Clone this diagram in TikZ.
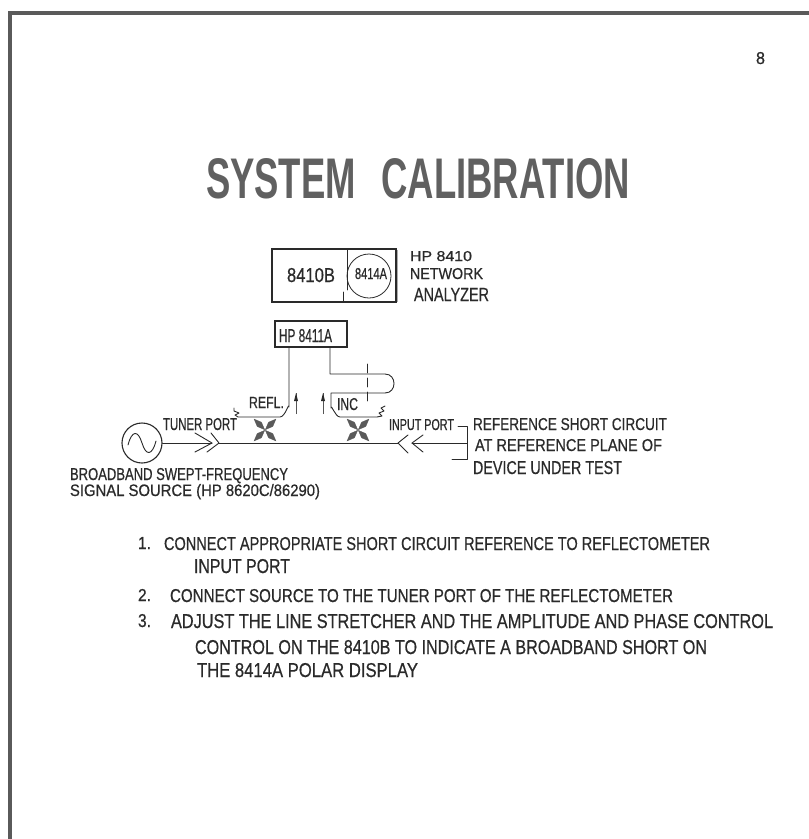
\documentclass[tikz,border=0pt]{standalone}
\usepackage{fontspec}
\usepackage{graphicx}
\setmainfont{Liberation Sans}[FakeBold=0.6]
\newfontfamily\titlefont{Liberation Sans Bold}
\definecolor{ink}{HTML}{2A2A2A}
\definecolor{frame}{HTML}{5A5A5A}
\definecolor{titlegray}{HTML}{606060}
\tikzset{
  wire/.style={draw=ink,line width=0.9pt,line join=round,line cap=round},
  label/.style={anchor=north west,inner sep=0pt,outer sep=0pt,text=ink},
  boxed/.style={draw=ink,line width=1.1pt,anchor=north west,inner sep=0pt,outer sep=0pt},
  lobe/.style={fill=frame,draw=frame,line width=0.3pt},
  smallarrow/.style={draw=ink!80,line width=0.8pt}
}
% name, x, top y, width, height, text
\newcommand{\fittext}[6]{\node[label] (#1) at (#2,#3) {\resizebox{#4pt}{#5pt}{#6}};}
\newcommand{\crossmark}[1]{%
  \foreach \a in {45,135,225,315}{
    \fill[lobe,shift={(#1)},rotate=\a] (0.5,0) -- (8,3) -- (15.5,0) -- (8,-3) -- cycle;
  }}
\begin{document}
\begin{tikzpicture}[x=1pt,y=-1pt]
\useasboundingbox (0,0) rectangle (809,839);
\fill[white] (0,0) rectangle (809,839);
% page frame
\draw[frame,line width=4pt] (10,839) -- (10,13) -- (809,13);

\fittext{pagenum}{756}{52}{9}{12}{8}
\node[label,text=titlegray] (title) at (206,158) {\resizebox{424pt}{40pt}{\titlefont SYSTEM\hspace{0.7em}CALIBRATION}};

% analyzer
\node[boxed,minimum width=124pt,minimum height=53pt] (analyzer) at (272,249) {};
\coordinate (divtop) at (347,249);
\coordinate (divbot) at (347,290);
\coordinate (ticktop) at (343,292);
\coordinate (tickbot) at (343,302);
\draw[wire] (divtop) -- (divbot);
\draw[wire] (ticktop) -- (tickbot);
\node[draw=ink,line width=0.8pt,circle,minimum size=44pt,inner sep=0pt] (crt) at (369,276) {};
\draw[frame!50,line width=1.6pt] (analyzer.north east) ++(1.5,1) -- ++(0,52);
\fittext{lbla}{287}{268}{48}{14}{8410B}
\fittext{lblb}{355}{268}{32}{11}{8414A}
\fittext{an1}{410}{251}{62}{10}{HP 8410}
\fittext{an2}{410}{268}{73}{11}{NETWORK}
\fittext{an3}{414}{288}{75}{13}{ANALYZER}

% 8411A
\node[boxed,line width=1.4pt,minimum width=72pt,minimum height=26pt] (hp) at (275,321) {};
\fittext{lblc}{279}{329}{53}{13}{HP 8411A}

% reflected path
\coordinate (r0) at (289,347);
\coordinate (r2) at (238,417);
\coordinate (r3) at (234,408);
\draw[wire] (r0) -- (289,407) to[out=90,in=0] (280,417) -- (r2)
  -- (235,415) -- (239,413) -- (234,411) -- (r3);
% incident path with stretcher loop
\coordinate (i0) at (330,347);
\coordinate (i1) at (330,374);
\coordinate (i2) at (385,374);
\coordinate (i3) at (385,393);
\coordinate (i4) at (331,393);
\coordinate (i5) at (377,417);
\coordinate (i6) at (385,406);
\draw[wire] (i0) -- (i1) -- (i2) .. controls (397,374) and (397,393) .. (i3) -- (i4)
  -- (331,408) to[out=90,in=180] (340,417) -- (i5)
  -- (382,416) -- (379,413) -- (384,411) -- (381,408) -- (i6);
% stretcher dash line
\coordinate (d0) at (367,364);
\coordinate (d1) at (367,405);
\draw[wire,dash pattern=on 9pt off 5pt] (d0) -- (d1);

% small coupling arrows
\coordinate (a1b) at (296,414);
\coordinate (a1t) at (296,393);
\coordinate (a2b) at (323,414);
\coordinate (a2t) at (323,393);
\draw[smallarrow] (a1b) -- (a1t);
\fill[ink] (294,401) -- (296,393) -- (298,401) -- cycle;
\draw[smallarrow] (a2b) -- (a2t);
\fill[ink] (321,401) -- (323,393) -- (325,401) -- cycle;

% crosses
\crossmark{265,430}
\crossmark{358,430}

% source
\node[draw=ink,line width=1.1pt,circle,minimum size=40pt,inner sep=0pt] (src) at (142,443) {};
\draw[wire] (128,445) .. controls (132,430) and (138,430) .. (142,443)
            .. controls (146,456) and (152,456) .. (156,441);
% main line
\coordinate (c1) at (212,443);
\coordinate (c2) at (219,443);
\coordinate (c3) at (398,443);
\coordinate (c4) at (412,443);
\coordinate (br) at (467,443);
\draw[wire] (src.east) -- (c1);
\draw[wire] (195,433) -- (c1) -- (195,452);
\draw[wire] (211,433) -- (c2) -- (207,452);
\draw[wire] (c2) -- (c3);
\draw[wire] (408,435) -- (c3) -- (408,453);
\draw[wire] (423,435) -- (c4) -- (423,452);
\draw[wire] (c4) -- (br);
% reference bracket
\coordinate (bt0) at (458,426);
\coordinate (bt1) at (467,426);
\coordinate (bb1) at (467,459);
\coordinate (bb0) at (452,459);
\draw[wire] (bt0) -- (bt1) -- (bb1) -- (bb0);

% diagram labels
\fittext{tp}{163}{418}{74}{12}{TUNER PORT}
\fittext{refl}{249}{397}{35}{11}{REFL.}
\fittext{inc}{337}{398}{21}{12}{INC}
\fittext{ip}{389}{419}{65}{11}{INPUT PORT}
\fittext{ref1}{473}{418}{194}{12}{REFERENCE SHORT CIRCUIT}
\fittext{ref2}{475}{439}{187}{12}{AT REFERENCE PLANE OF}
\fittext{ref3}{473}{461}{149}{13}{DEVICE UNDER TEST}
\fittext{s1}{70}{468}{218}{12}{BROADBAND SWEPT-FREQUENCY}
\fittext{s2}{70}{484}{250}{12}{SIGNAL SOURCE (HP 8620C/86290)}

% steps
\fittext{n1}{138}{537}{13}{12}{1.}
\fittext{t1}{164}{537}{546}{13}{CONNECT APPROPRIATE SHORT CIRCUIT REFERENCE TO REFLECTOMETER}
\fittext{t1b}{194}{559}{96}{14}{INPUT PORT}
\fittext{n2}{138}{589}{13}{12}{2.}
\fittext{t2}{170}{589}{503}{13}{CONNECT SOURCE TO THE TUNER PORT OF THE REFLECTOMETER}
\fittext{n3}{138}{614}{13}{13}{3.}
\fittext{t3}{171}{614}{602}{14}{ADJUST THE LINE STRETCHER AND THE AMPLITUDE AND PHASE CONTROL}
\fittext{t3b}{195}{640}{512}{14}{CONTROL ON THE 8410B TO INDICATE A BROADBAND SHORT ON}
\fittext{t3c}{197}{663}{221}{14}{THE 8414A POLAR DISPLAY}
\end{tikzpicture}
\end{document}
